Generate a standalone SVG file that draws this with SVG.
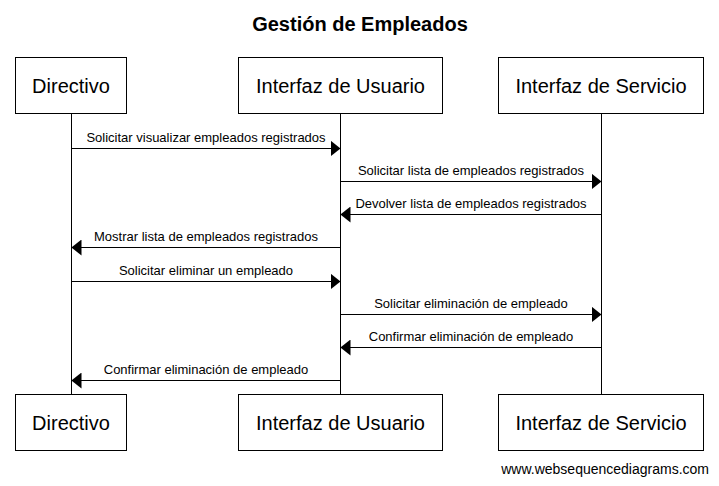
<svg xmlns="http://www.w3.org/2000/svg" width="719" height="486" viewBox="0 0 719 486">
<style>
.box{fill:#fff;stroke:#000;stroke-width:1}
.pt{font-family:"Liberation Sans",Arial,sans-serif;font-size:20px;text-anchor:middle;fill:#000}
.life{stroke:#000;stroke-width:1}
.msg{stroke:#000;stroke-width:1;fill:none}
.ml{font-family:"Liberation Sans",Arial,sans-serif;font-size:13px;text-anchor:middle;fill:#000}
</style>
<defs>
<marker id="ah" markerWidth="10" markerHeight="16" refX="10" refY="8" orient="auto" markerUnits="userSpaceOnUse">
<path d="M0,0 L10,8 L0,16 Z" fill="#000"/>
</marker>
</defs>
<rect width="719" height="486" fill="#fff"/>
<text x="360" y="31" font-family="'Liberation Sans',Arial,sans-serif" font-size="20" font-weight="bold" text-anchor="middle">Gestión de Empleados</text>
<g id="lifelines">
<line class="life" x1="71.5" y1="114" x2="71.5" y2="394"/>
<line class="life" x1="340.5" y1="114" x2="340.5" y2="394"/>
<line class="life" x1="601.5" y1="114" x2="601.5" y2="394"/>
</g>
<g id="directivo-top"><rect class="box" x="15.5" y="57.5" width="111" height="56"/><text class="pt" x="71" y="93">Directivo</text></g>
<g id="usuario-top"><rect class="box" x="238.5" y="57.5" width="204" height="56"/><text class="pt" x="340.5" y="93">Interfaz de Usuario</text></g>
<g id="servicio-top"><rect class="box" x="498.5" y="57.5" width="205" height="56"/><text class="pt" x="601" y="93">Interfaz de Servicio</text></g>
<g id="directivo-bottom"><rect class="box" x="15.5" y="394.5" width="111" height="56"/><text class="pt" x="71" y="430">Directivo</text></g>
<g id="usuario-bottom"><rect class="box" x="238.5" y="394.5" width="204" height="56"/><text class="pt" x="340.5" y="430">Interfaz de Usuario</text></g>
<g id="servicio-bottom"><rect class="box" x="498.5" y="394.5" width="205" height="56"/><text class="pt" x="601" y="430">Interfaz de Servicio</text></g>
<g id="connectors">
<line class="msg" x1="71.5" y1="148.5" x2="340.5" y2="148.5" marker-end="url(#ah)"/>
<text class="ml" x="206" y="142">Solicitar visualizar empleados registrados</text>
<line class="msg" x1="340.5" y1="181.5" x2="601.5" y2="181.5" marker-end="url(#ah)"/>
<text class="ml" x="471" y="175">Solicitar lista de empleados registrados</text>
<line class="msg" x1="601.5" y1="214.5" x2="340.5" y2="214.5" marker-end="url(#ah)"/>
<text class="ml" x="471" y="208">Devolver lista de empleados registrados</text>
<line class="msg" x1="340.5" y1="247.5" x2="71.5" y2="247.5" marker-end="url(#ah)"/>
<text class="ml" x="206" y="241">Mostrar lista de empleados registrados</text>
<line class="msg" x1="71.5" y1="281.5" x2="340.5" y2="281.5" marker-end="url(#ah)"/>
<text class="ml" x="206" y="275">Solicitar eliminar un empleado</text>
<line class="msg" x1="340.5" y1="314.5" x2="601.5" y2="314.5" marker-end="url(#ah)"/>
<text class="ml" x="471" y="308">Solicitar eliminación de empleado</text>
<line class="msg" x1="601.5" y1="347.5" x2="340.5" y2="347.5" marker-end="url(#ah)"/>
<text class="ml" x="471" y="341">Confirmar eliminación de empleado</text>
<line class="msg" x1="340.5" y1="380.5" x2="71.5" y2="380.5" marker-end="url(#ah)"/>
<text class="ml" x="206" y="374">Confirmar eliminación de empleado</text>
</g>
<text x="709" y="474" font-family="'Liberation Sans',Arial,sans-serif" font-size="14" text-anchor="end">www.websequencediagrams.com</text>
</svg>
